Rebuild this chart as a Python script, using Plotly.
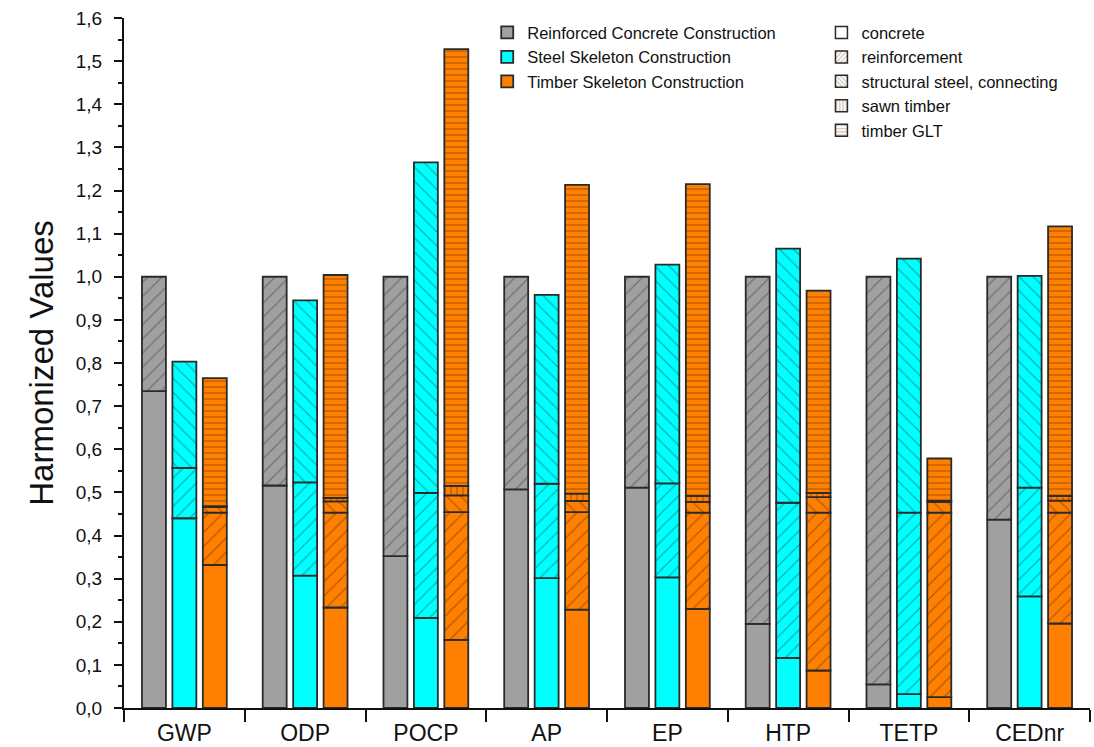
import numpy as np
import plotly.graph_objects as go

# Impact categories on the x axis
categories = ["GWP", "ODP", "POCP", "AP", "EP", "HTP", "TETP", "CEDnr"]

# Reinforced concrete construction: material shares
rc_concrete = [0.735, 0.516, 0.352, 0.507, 0.511, 0.195, 0.055, 0.437]
rc_reinforcement = [0.265, 0.484, 0.648, 0.493, 0.489, 0.805, 0.945, 0.563]

# Steel skeleton construction: material shares
ssc_concrete = [0.440, 0.307, 0.209, 0.301, 0.303, 0.116, 0.032, 0.259]
ssc_reinforcement = [0.117, 0.216, 0.290, 0.219, 0.218, 0.360, 0.421, 0.252]
ssc_steel = [0.246, 0.422, 0.766, 0.438, 0.507, 0.589, 0.589, 0.491]

# Timber skeleton construction: material shares
tsc_concrete = [0.332, 0.233, 0.158, 0.228, 0.230, 0.087, 0.025, 0.196]
tsc_reinforcement = [0.121, 0.220, 0.296, 0.226, 0.223, 0.366, 0.428, 0.257]
tsc_steel = [0.013, 0.026, 0.039, 0.026, 0.025, 0.036, 0.025, 0.028]
tsc_sawn = [0.002, 0.008, 0.022, 0.017, 0.014, 0.010, 0.003, 0.011]
tsc_glt = [0.297, 0.517, 1.013, 0.716, 0.723, 0.469, 0.098, 0.625]

constructions = ["Reinforced Concrete Construction",
                 "Steel Skeleton Construction",
                 "Timber Skeleton Construction"]
materials = ["concrete", "reinforcement", "structural steel, connecting",
             "sawn timber", "timber GLT"]

colors = {constructions[0]: "#A0A0A0",
          constructions[1]: "#00FFFF",
          constructions[2]: "#FF8000"}
hatch = {"concrete": "",
         "reinforcement": "/",
         "structural steel, connecting": "\\",
         "sawn timber": "|",
         "timber GLT": "-"}
hatch_size = {"concrete": 8, "reinforcement": 10,
              "structural steel, connecting": 10,
              "sawn timber": 6, "timber GLT": 6}
hatch_solidity = {"concrete": 0.1, "reinforcement": 0.12,
                  "structural steel, connecting": 0.12,
                  "sawn timber": 0.2, "timber GLT": 0.2}

stacks = {
    constructions[0]: [("concrete", rc_concrete),
                       ("reinforcement", rc_reinforcement)],
    constructions[1]: [("concrete", ssc_concrete),
                       ("reinforcement", ssc_reinforcement),
                       ("structural steel, connecting", ssc_steel)],
    constructions[2]: [("concrete", tsc_concrete),
                       ("reinforcement", tsc_reinforcement),
                       ("structural steel, connecting", tsc_steel),
                       ("sawn timber", tsc_sawn),
                       ("timber GLT", tsc_glt)],
}

FONT = "Liberation Sans, Arial, sans-serif"
fig = go.Figure()

# Stacked segments, one offset group per construction type
for ci, cname in enumerate(constructions):
    base = np.zeros(len(categories))
    for mat, vals in stacks[cname]:
        vals = np.asarray(vals, dtype=float)
        fig.add_trace(go.Bar(
            x=categories, y=vals, base=base.copy(),
            offsetgroup=str(ci), alignmentgroup="all",
            showlegend=False, name=f"{cname} – {mat}",
            marker=dict(color=colors[cname],
                        line=dict(color="#2a2a2a", width=1.8),
                        pattern=dict(shape=hatch[mat], fgcolor="rgba(0,0,0,0.6)",
                                     size=hatch_size[mat],
                                     solidity=hatch_solidity[mat])),
        ))
        base = base + vals

# Legend entries: construction colours
for cname in constructions:
    fig.add_trace(go.Bar(
        x=[None], y=[None], name=cname, legend="legend",
        marker=dict(color=colors[cname], line=dict(color="#2a2a2a", width=1.8)),
    ))

# Legend entries: material hatches
for mat in materials:
    fig.add_trace(go.Bar(
        x=[None], y=[None], name=mat, legend="legend2",
        marker=dict(color="white", line=dict(color="#2a2a2a", width=1.5),
                    pattern=dict(shape=hatch[mat], fgcolor="#8A6040",
                                 size=4, solidity=0.3)),
    ))

fig.update_layout(
    width=1094, height=747,
    margin=dict(l=124, r=4, t=18, b=39),
    paper_bgcolor="white", plot_bgcolor="white",
    barmode="group", bargap=0.244, bargroupgap=0.213,
    separators=",.",
    font=dict(family=FONT, color="#111"),
    legend=dict(x=0.376, y=1.004, xanchor="left", yanchor="top",
                font=dict(size=16.5, family=FONT), bgcolor="rgba(0,0,0,0)",
                tracegroupgap=0, itemclick=False),
    legend2=dict(x=0.722, y=1.004, xanchor="left", yanchor="top",
                 font=dict(size=16.5, family=FONT), bgcolor="rgba(0,0,0,0)",
                 tracegroupgap=0, itemclick=False),
    xaxis=dict(type="category", categoryorder="array", categoryarray=categories,
               showline=True, linecolor="#111", linewidth=2,
               ticks="outside", tickson="boundaries", ticklen=12,
               tickwidth=2, tickcolor="#111", ticklabelstandoff=3,
               automargin=False,
               tickfont=dict(size=23, family=FONT, color="#111"),
               showgrid=False, zeroline=False),
    yaxis=dict(range=[0, 1.6], dtick=0.1, tick0=0, tickformat=".1f",
               showline=True, linecolor="#111", linewidth=2,
               ticks="outside", ticklen=8, tickwidth=2, tickcolor="#111",
               ticklabelstandoff=8, automargin=False,
               minor=dict(dtick=0.05, ticks="outside", ticklen=4,
                          tickwidth=1.5, tickcolor="#111", showgrid=False),
               tickfont=dict(size=19, family=FONT, color="#111"),
               title=dict(text="Harmonized Values", standoff=12,
                          font=dict(size=33, family=FONT, color="#111")),
               showgrid=False, zeroline=False),
)

fig.write_html("out.html")
